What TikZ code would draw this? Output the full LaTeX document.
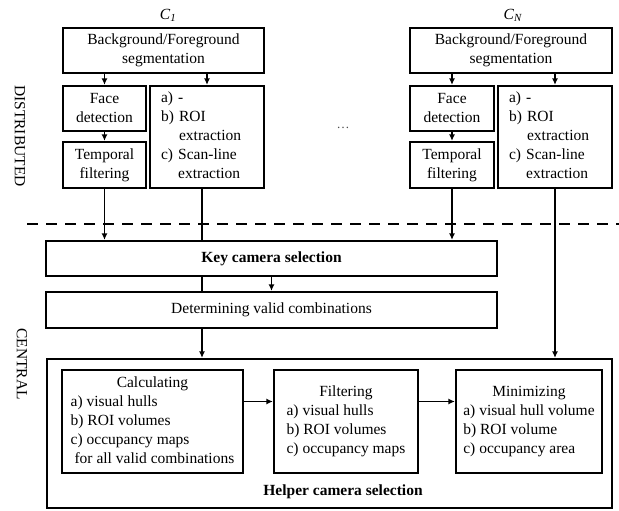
\documentclass[tikz,border=0pt]{standalone}
\usepackage{fontspec}
\setmainfont{Liberation Serif}
\usetikzlibrary{arrows.meta}
\newcommand{\boxfont}{\fontsize{15.5}{19}\selectfont}
\newcommand{\boxhead}[1]{\multicolumn{1}{@{}c@{}}{#1}}

\begin{document}
\begin{tikzpicture}[x=1pt, y=-1pt, >={Latex[length=6.5pt,width=6pt]},
    blk/.style={draw, line width=2.2pt, align=center, font=\boxfont, inner sep=0pt},
    lst/.style={blk, align=left},
    flow/.style={line width=1.8pt, ->},
    link/.style={line width=1.8pt}]
    \useasboundingbox (0,0) rectangle (619,511);

    % camera 1
    \node[font=\boxfont] (c1) at (168,15) {\textit{C}\textsubscript{\textit{1}}};
    \node[blk, minimum width=201, minimum height=45] (seg1) at (163.5,50.5) {Background/Foreground\\segmentation};
    \node[blk, minimum width=83, minimum height=45] (face1) at (104.5,108.5) {Face\\detection};
    \node[blk, minimum width=83, minimum height=46] (temp1) at (104.5,165) {Temporal\\filtering};
    \node[lst, minimum width=114, minimum height=102, text width=92, inner xsep=11] (ext1) at (207,137)
        {a) -\\b) ROI\\\phantom{b) }extraction\\c) Scan-line\\\phantom{c) }extraction};

    % camera N
    \node[font=\boxfont] (cN) at (513,15) {\textit{C}\textsubscript{\textit{N}}};
    \node[blk, minimum width=202, minimum height=45] (segN) at (511,50.5) {Background/Foreground\\segmentation};
    \node[blk, minimum width=84, minimum height=45] (faceN) at (452,108.5) {Face\\detection};
    \node[blk, minimum width=84, minimum height=46] (tempN) at (452,165) {Temporal\\filtering};
    \node[lst, minimum width=114, minimum height=102, text width=92, inner xsep=11] (extN) at (555,137)
        {a) -\\b) ROI\\\phantom{b) }extraction\\c) Scan-line\\\phantom{c) }extraction};

    \node[font=\fontsize{13}{13}\selectfont, text=black!70] (dots) at (343,128) {\ldots};

    % split
    \draw[line width=2.5pt, dash pattern=on 11pt off 8pt] (27,224) -- (619,224);
    \node[font=\boxfont, rotate=-90] (distlbl) at (20,136) {DISTRIBUTED};
    \node[font=\boxfont, rotate=-90] (centlbl) at (22,364) {CENTRAL};

    % central part
    \node[blk, minimum width=451, minimum height=35, font=\boxfont\bfseries] (key) at (271.5,258.5) {Key camera selection};
    \node[blk, minimum width=451, minimum height=36] (det) at (271.5,310) {Determining valid combinations};
    \node[blk, minimum width=565, minimum height=149] (helper) at (329.5,433.5) {};
    \node[font=\boxfont\bfseries] (helplbl) at (343,492) {Helper camera selection};

    \node[blk, minimum width=181, minimum height=103] (calc) at (152.5,421.5)
        {\begin{tabular}{@{}l@{}}\boxhead{Calculating}\\a) visual hulls\\b) ROI volumes\\c) occupancy maps\\\ for all valid combinations\end{tabular}};
    \node[blk, minimum width=144, minimum height=103] (filt) at (346,421.5)
        {\begin{tabular}{@{}l@{}}\boxhead{Filtering}\\a) visual hulls\\b) ROI volumes\\c) occupancy maps\end{tabular}};
    \node[blk, minimum width=146, minimum height=103] (mini) at (529,421.5)
        {\begin{tabular}{@{}l@{}}\boxhead{Minimizing}\\a) visual hull volume\\b) ROI volume\\c) occupancy area\end{tabular}};

    % connectors
    \draw[flow] (seg1.south -| face1.north) -- (face1.north);
    \draw[flow] (seg1.south -| ext1.north) -- (ext1.north);
    \draw[flow] (face1) -- (temp1);
    \draw[flow] (segN.south -| faceN.north) -- (faceN.north);
    \draw[flow] (segN.south -| extN.north) -- (extN.north);
    \draw[flow] (faceN) -- (tempN);

    \draw[flow] (temp1) -- (temp1 |- key.north);
    \draw[flow] (tempN) -- (tempN |- key.north);
    \coordinate (e1) at ([xshift=-5pt]ext1.south);
    \draw[link] (e1) -- (e1 |- key.north);
    \draw[link] (e1 |- key.south) -- (e1 |- det.north);
    \draw[flow] (e1 |- det.south) -- (e1 |- helper.north);
    \draw[flow] (key) -- (det);
    \draw[flow] (extN) -- (extN |- helper.north);

    \draw[flow] ([yshift=20pt]calc.east) -- ([yshift=20pt]filt.west);
    \draw[flow] ([yshift=20pt]filt.east) -- ([yshift=20pt]mini.west);
\end{tikzpicture}
\end{document}
